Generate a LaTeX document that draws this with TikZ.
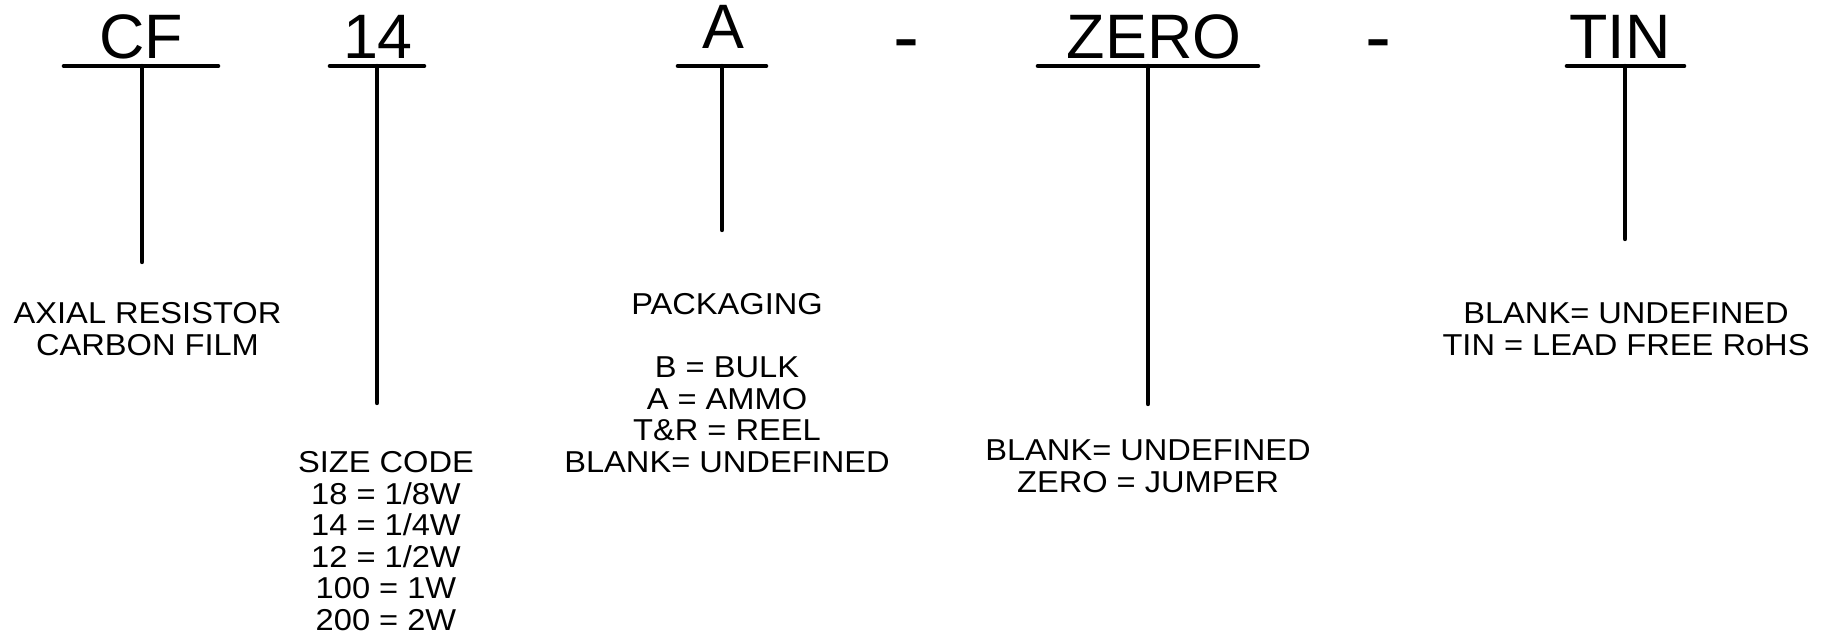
\documentclass[tikz,border=0pt]{standalone}
\usepackage{fontspec}
\setmainfont{Liberation Sans}
\newfontfamily\descfont[FakeStretch=1.08]{Liberation Sans}
\begin{document}
\begin{tikzpicture}[x=1pt,y=-1pt,
  code/.style={font=\fontsize{62.8}{70}\selectfont, inner sep=0pt, anchor=base},
  sep/.style={font=\fontsize{78}{80}\selectfont, inner sep=0pt, anchor=base},
  desc/.style={font=\descfont\fontsize{30.2}{31.5}\selectfont, inner sep=0pt, anchor=base, align=center},
  bar/.style={line width=4.6pt, line cap=round},
  stem/.style={line width=4.4pt, line cap=round}]
\useasboundingbox (0,0) rectangle (1830,638);

% part-number fields
\node[code] (cf) at (141,58) {CF};
\node[code] (sz) at (378,58) {14};
\node[code] (pk) at (723,48) {A};
\node[sep]  (d1) at (906,63.5) {-};
\node[code] (ze) at (1154,58) {ZERO};
\node[sep]  (d2) at (1378,63.5) {-};
\node[code] (tn) at (1620,58) {TIN};

% underline bars and stem ends
\coordinate (cfL) at (64,66);   \coordinate (cfR) at (218,66);
\coordinate (cfT) at (142,66);  \coordinate (cfB) at (142,262);
\coordinate (szL) at (330,66);  \coordinate (szR) at (424,66);
\coordinate (szT) at (377,66);  \coordinate (szB) at (377,403);
\coordinate (pkL) at (678,66);  \coordinate (pkR) at (766,66);
\coordinate (pkT) at (722,66);  \coordinate (pkB) at (722,230);
\coordinate (zeL) at (1038,66); \coordinate (zeR) at (1258,66);
\coordinate (zeT) at (1148,66); \coordinate (zeB) at (1148,404);
\coordinate (tnL) at (1567,66); \coordinate (tnR) at (1684,66);
\coordinate (tnT) at (1625,66); \coordinate (tnB) at (1625,239);

\draw[bar] (cfL) -- (cfR);  \draw[stem] (cfT) -- (cfB);
\draw[bar] (szL) -- (szR);  \draw[stem] (szT) -- (szB);
\draw[bar] (pkL) -- (pkR);  \draw[stem] (pkT) -- (pkB);
\draw[bar] (zeL) -- (zeR);  \draw[stem] (zeT) -- (zeB);
\draw[bar] (tnL) -- (tnR);  \draw[stem] (tnT) -- (tnB);

% field descriptions (anchored at the baseline of the last line)
\node[desc] (cfd) at (147.5,355) {AXIAL RESISTOR\\CARBON FILM};
\node[desc] (szd) at (386,630) {SIZE CODE\\18 = 1/8W\\14 = 1/4W\\12 = 1/2W\\100 = 1W\\200 = 2W};
\node[desc] (pkd) at (727,472) {PACKAGING\\[31.5pt]B = BULK\\A = AMMO\\T\&R = REEL\\BLANK= UNDEFINED};
\node[desc] (zed) at (1148,492) {BLANK= UNDEFINED\\ZERO = JUMPER};
\node[desc] (tnd) at (1626,355) {BLANK= UNDEFINED\\TIN = LEAD FREE RoHS};
\end{tikzpicture}
\end{document}
